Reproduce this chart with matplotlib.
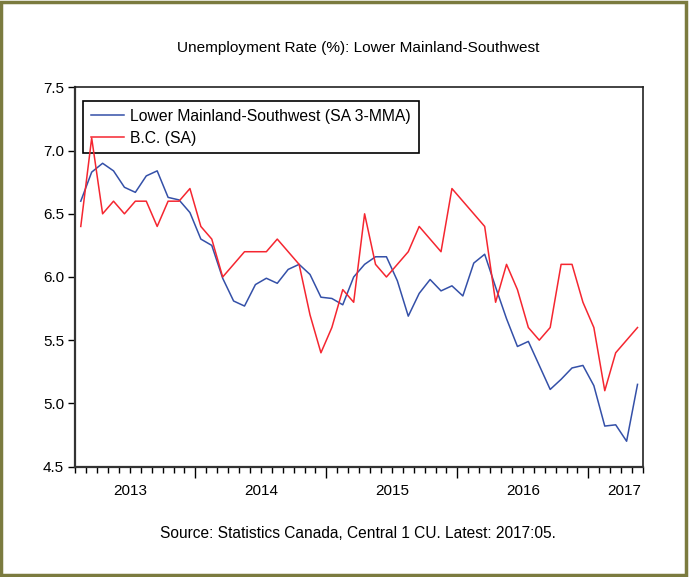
import matplotlib
matplotlib.use("Agg")
import matplotlib.pyplot as plt
from matplotlib.patches import Rectangle
import pandas as pd

plt.rcParams['font.family'] = ['Liberation Sans', 'DejaVu Sans']

# monthly data, 2013:02 - 2017:05
months = pd.period_range('2013-02', '2017-05', freq='M')
lmsw = [6.60, 6.83, 6.90, 6.84, 6.71, 6.67, 6.80, 6.84, 6.63, 6.61, 6.51,
        6.30, 6.25, 5.99, 5.81, 5.77, 5.94, 5.99, 5.95, 6.06, 6.10, 6.02, 5.84,
        5.83, 5.78, 6.00, 6.10, 6.16, 6.16, 5.97, 5.69, 5.87, 5.98, 5.89, 5.93,
        5.85, 6.11, 6.18, 5.92, 5.67, 5.45, 5.49, 5.30, 5.11, 5.19, 5.28, 5.30,
        5.14, 4.82, 4.83, 4.70, 5.15]
bc = [6.40, 7.10, 6.50, 6.60, 6.50, 6.60, 6.60, 6.40, 6.60, 6.60, 6.70,
      6.40, 6.30, 6.00, 6.10, 6.20, 6.20, 6.20, 6.30, 6.20, 6.10, 5.70, 5.40,
      5.60, 5.90, 5.80, 6.50, 6.10, 6.00, 6.10, 6.20, 6.40, 6.30, 6.20, 6.70,
      6.60, 6.50, 6.40, 5.80, 6.10, 5.90, 5.60, 5.50, 5.60, 6.10, 6.10, 5.80,
      5.60, 5.10, 5.40, 5.50, 5.60]
years = ['2013', '2014', '2015', '2016', '2017']
yticks = [4.5, 5.0, 5.5, 6.0, 6.5, 7.0, 7.5]

# x = months since Jan 2013, each obs at the middle of its month
x = [(p.year - 2013) * 12 + p.month - 1 + 0.5 for p in months]
x0, x1 = x[0] - 0.5, x[-1] + 0.5

fig = plt.figure(figsize=(6.89, 5.77), dpi=100)
ax = fig.add_axes([0.1093, 0.1915, 0.8239, 0.6569])

ax.plot(x, lmsw, color='#3450A8', lw=1.1, label='Lower Mainland-Southwest (SA 3-MMA)', zorder=3)
ax.plot(x, bc, color='#F52630', lw=1.1, label='B.C. (SA)', zorder=3)

ax.set_xlim(x0, x1)
ax.set_ylim(4.5, 7.5)
ax.set_yticks(yticks)
ax.set_yticklabels(['%.1f' % v for v in yticks])

# year boundaries as major ticks, months as minor ticks
ax.set_xticks([12 * k for k in range(1, len(years))])
ax.set_xticklabels([])
ax.set_xticks(range(int(x0), int(x1) + 1), minor=True)
ax.tick_params(axis='x', which='major', length=8, width=1.0, direction='out')
ax.tick_params(axis='x', which='minor', length=4, width=1.0, direction='out')
ax.tick_params(axis='y', length=5, width=1.0, direction='out', labelsize=11, pad=3)

# year labels centred on each year, last one kept inside the axis
for k, yr in enumerate(years):
    xc = 12 * k + 6
    if xc > x1 - 1.7:
        xc = x1 - 1.7
    ax.text(xc, -0.045, yr, transform=ax.get_xaxis_transform(),
            ha='center', va='top', fontsize=11)

for side in ['left', 'bottom']:
    ax.spines[side].set_linewidth(1.6)
    ax.spines[side].set_color('#333333')
for side in ['top', 'right']:
    ax.spines[side].set_linewidth(1.2)
    ax.spines[side].set_color('#222222')

leg = ax.legend(loc='upper left', bbox_to_anchor=(0.0136, 0.965), borderaxespad=0,
                fancybox=False, fontsize=11.3, handlelength=2.1, handletextpad=0.4,
                labelspacing=0.45, borderpad=0.5, framealpha=1)
leg.get_frame().set_edgecolor('black')
leg.get_frame().set_linewidth(1.2)
leg.set_zorder(1)

fig.text(0.52, 1 - 48 / 577, 'Unemployment Rate (%): Lower Mainland-Southwest',
         ha='center', va='center', fontsize=11.1)
fig.text(0.52, 1 - 533 / 577, 'Source: Statistics Canada, Central 1 CU. Latest: 2017:05.',
         ha='center', va='center', fontsize=11.2)

# olive outer frame
fig.patches.append(Rectangle((0.002, 0.004), 0.994, 0.993, transform=fig.transFigure,
                             fill=False, edgecolor='#7B7B3F', lw=2.5))

fig.savefig('out.png', dpi=100)
